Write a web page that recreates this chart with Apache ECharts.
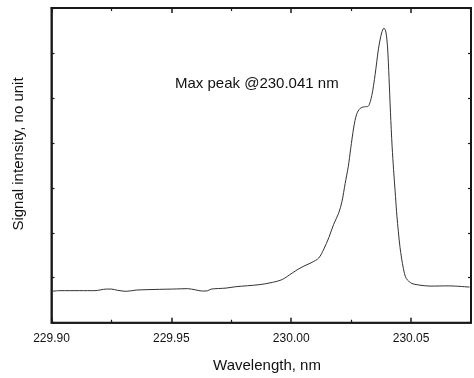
<!DOCTYPE html>
<html>
<head>
<meta charset="utf-8">
<script src="https://cdn.jsdelivr.net/npm/echarts@6/dist/echarts.min.js"></script>
<style>html,body{margin:0;padding:0;background:#fff}#c{width:474px;height:378px}</style>
</head>
<body>
<div id="c"></div>
<script>
var wavelength = [229.9002,229.9035,229.9118,229.9181,229.9229,229.9250,229.9276,229.9312,229.9354,229.9451,229.9505,229.9568,229.9600,229.9629,229.9650,229.9667,229.9728,229.9769,229.9866,229.9921,229.9963,230.0004,230.0029,230.0053,230.0087,230.0115,230.0136,230.0157,230.0177,230.0198,230.0212,230.0225,230.0238,230.0248,230.0261,230.0273,230.0288,230.0306,230.0321,230.0336,230.0350,230.0364,230.0377,230.0387,230.0395,230.0402,230.0408,230.0414,230.0421,230.0427,230.0435,230.0441,230.0454,230.0468,230.0480,230.0503,230.0530,230.0579,230.0655,230.0744];
var intensity = [0.698,0.713,0.713,0.713,0.748,0.748,0.720,0.698,0.726,0.742,0.748,0.757,0.731,0.704,0.709,0.748,0.770,0.801,0.845,0.896,0.962,1.105,1.189,1.259,1.343,1.440,1.638,1.893,2.188,2.437,2.701,3.097,3.471,3.868,4.352,4.638,4.770,4.803,4.814,5.050,5.518,6.091,6.443,6.553,6.465,6.112,5.452,4.682,3.912,3.405,2.811,2.371,1.673,1.204,0.984,0.874,0.841,0.814,0.819,0.792];
var xTickLabels = ['229.90','229.95','230.00','230.05'];
var annotation = 'Max peak @230.041 nm';
var xTitle = 'Wavelength, nm';
var yTitle = 'Signal intensity, no unit';

var data = wavelength.map(function(w,i){return [w, intensity[i]];});
var axisColor = '#1a1a1a';
var font = 'Liberation Sans, Arial, sans-serif';

var chart = echarts.init(document.getElementById('c'));
chart.setOption({
  animation:false,
  grid:{left:51.5,right:2.5,top:5,bottom:55.3,show:true,borderColor:axisColor,borderWidth:2},
  xAxis:[
    {type:'value',min:229.90,max:230.075,interval:0.05,
      axisLine:{onZero:false,lineStyle:{color:axisColor,width:1.5}},
      axisTick:{inside:true,length:5,lineStyle:{color:axisColor,width:1.5}},
      minorTick:{show:true,splitNumber:2,length:3,lineStyle:{color:axisColor,width:1.2}},
      splitLine:{show:false},
      axisLabel:{showMaxLabel:false,color:'#111',fontSize:12,fontFamily:font,margin:10,
        formatter:function(v){var s=v.toFixed(2);return xTickLabels.indexOf(s)>=0?s:'';}}},
    {type:'value',position:'top',min:229.90,max:230.075,interval:0.05,
      axisLine:{onZero:false,lineStyle:{color:axisColor,width:2}},
      axisTick:{inside:true,length:5,lineStyle:{color:axisColor,width:1.5}},
      minorTick:{show:true,splitNumber:2,length:3,lineStyle:{color:axisColor,width:1.2}},
      splitLine:{show:false},
      axisLabel:{show:true,formatter:function(){return '';}}}
  ],
  yAxis:[
    {type:'value',min:0,max:7,interval:1,
      axisLine:{show:true,onZero:false,lineStyle:{color:axisColor,width:1.5}},
      axisTick:{show:true,inside:true,length:3,lineStyle:{color:axisColor,width:1.2}},
      axisLabel:{show:false},splitLine:{show:false}},
    {type:'value',position:'right',min:0,max:7,interval:1,
      axisLine:{show:true,onZero:false,lineStyle:{color:axisColor,width:1.5}},
      axisTick:{show:true,inside:true,length:3,lineStyle:{color:axisColor,width:1.2}},
      axisLabel:{show:false},splitLine:{show:false}}
  ],
  series:[{type:'line',data:data,smooth:0.3,showSymbol:false,
    lineStyle:{color:'#333',width:1}}],
  graphic:[
    {type:'text',left:175,top:76,style:{text:annotation,fill:'#111',font:'15px '+font}},
    {type:'text',x:267,y:366,style:{text:xTitle,fill:'#111',font:'15px '+font,align:'center',verticalAlign:'middle'}},
    {type:'text',x:19,y:154,rotation:Math.PI/2,style:{text:yTitle,fill:'#111',font:'15px '+font,align:'center',verticalAlign:'middle'}}
  ]
});
</script>
</body>
</html>
